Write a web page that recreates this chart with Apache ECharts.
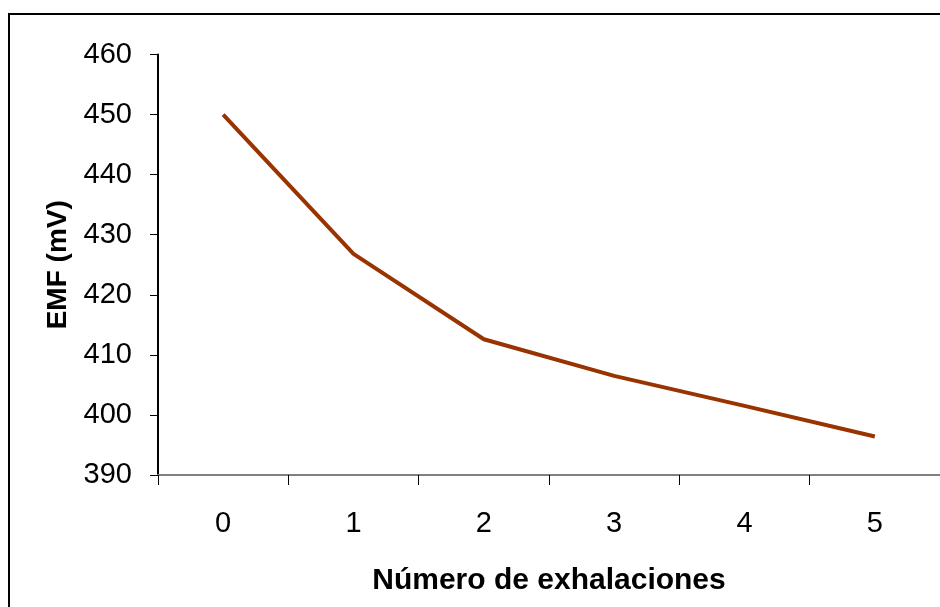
<!DOCTYPE html>
<html>
<head>
<meta charset="utf-8">
<script src="https://cdn.jsdelivr.net/npm/echarts@6/dist/echarts.min.js"></script>
<style>html,body{margin:0;padding:0;background:#fff}#c{width:940px;height:607px}</style>
</head>
<body>
<div id="c"></div>
<script>
var categories = ['0', '1', '2', '3', '4', '5'];
var emfValues = [450, 426.8, 412.6, 406.5, 401.5, 396.4];
var yMin = 390, yMax = 460, yInterval = 10;
var xTitle = 'Número de exhalaciones';
var yTitle = 'EMF (mV)';

var chart = echarts.init(document.getElementById('c'), null, {renderer: 'canvas'});
var font = 'Liberation Sans, Arial, sans-serif';
chart.setOption({
  animation: false,
  backgroundColor: '#fff',
  graphic: [{
    type: 'rect',
    shape: {x: 9, y: 14, width: 1000, height: 1000},
    style: {fill: 'none', stroke: '#000', lineWidth: 2},
    silent: true
  }],
  grid: {left: 158, top: 54.5, right: 0, bottom: 132, containLabel: false},
  xAxis: {
    type: 'category',
    data: categories,
    boundaryGap: true,
    name: xTitle,
    nameLocation: 'middle',
    nameGap: 91,
    nameTextStyle: {fontFamily: font, fontSize: 30, fontWeight: 'bold', color: '#000'},
    axisLine: {lineStyle: {color: '#808080', width: 2}},
    axisTick: {show: true, length: 10, lineStyle: {color: '#000', width: 1}},
    axisLabel: {fontFamily: font, fontSize: 29, color: '#000', margin: 34},
    splitLine: {show: false}
  },
  yAxis: {
    type: 'value',
    min: yMin,
    max: yMax,
    interval: yInterval,
    name: yTitle,
    nameLocation: 'middle',
    nameGap: 58,
    nameRotate: 90,
    nameTextStyle: {fontFamily: font, fontSize: 28, fontWeight: 'bold', color: '#000'},
    axisLine: {show: true, lineStyle: {color: '#000', width: 2}},
    axisTick: {show: true, length: 8, lineStyle: {color: '#000', width: 1}},
    axisLabel: {fontFamily: font, fontSize: 29, color: '#000', margin: 26},
    splitLine: {show: false}
  },
  series: [{
    type: 'line',
    data: emfValues,
    symbol: 'none',
    lineStyle: {color: '#993300', width: 4},
    itemStyle: {color: '#993300'}
  }]
});
</script>
</body>
</html>
